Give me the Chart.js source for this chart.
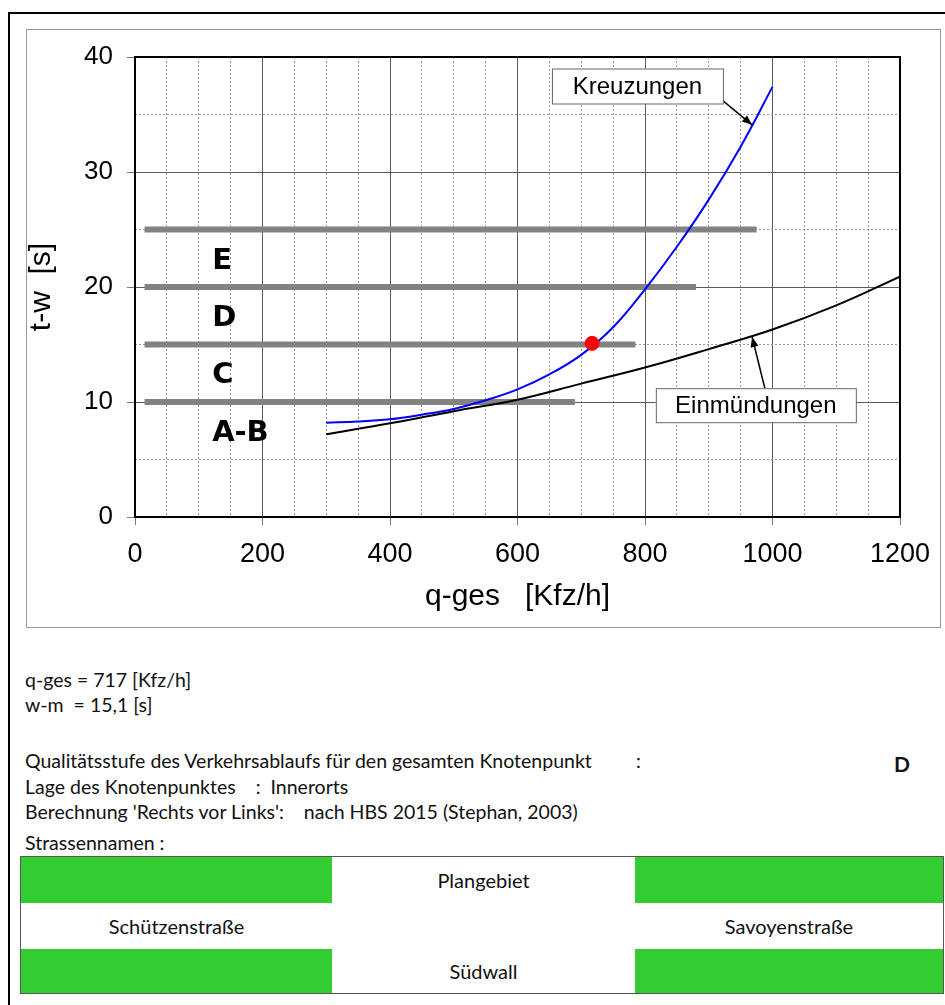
<!DOCTYPE html>
<html>
<head>
<meta charset="utf-8">
<script src="https://cdn.jsdelivr.net/npm/chart.js@4.4.1/dist/chart.umd.min.js"></script>
<style>
html, body { margin: 0; padding: 0; background: #fff; width: 945px; height: 1005px; overflow: hidden; }
#frame { position: absolute; left: 8px; top: 12px; width: 1000px; height: 1100px; border: 2px solid #000; }
#panel { position: absolute; left: 26px; top: 29px; width: 913px; height: 597px; border: 1px solid #999; }
#wrap { position: absolute; left: 26px; top: 29px; width: 914px; height: 598px; }
.t { position: absolute; font-family: Lato, sans-serif; font-size: 19.5px; color: #111; white-space: pre; line-height: 20px; }
#tbl { position: absolute; left: 20px; top: 856px; width: 922px; height: 136px; border: 1px solid #555; }
.c { position: absolute; height: 46px; line-height: 46px; text-align: center; font-family: Lato, sans-serif; font-size: 20px; color: #111; }
.g { background: #33cc33; }
</style>
</head>
<body>
<div id="frame"></div>
<div id="panel"></div>
<div id="wrap"><canvas id="chart" width="914" height="598"></canvas></div>

<div class="t" style="left:25px;top:670px">q-ges = 717 [Kfz/h]</div>
<div class="t" style="left:25px;top:695px">w-m  = 15,1 [s]</div>
<div class="t" style="left:25px;top:751px">Qualitätsstufe des Verkehrsablaufs für den gesamten Knotenpunkt</div>
<div class="t" style="left:636px;top:751px">:</div>
<div class="t" style="left:894px;top:754px;font-weight:bold;font-size:21px">D</div>
<div class="t" style="left:25px;top:777px">Lage des Knotenpunktes    :  Innerorts</div>
<div class="t" style="left:25px;top:802px">Berechnung 'Rechts vor Links':    nach HBS 2015 (Stephan, 2003)</div>
<div class="t" style="left:25px;top:833px">Strassennamen :</div>

<div id="tbl">
  <div class="c g" style="left:0;top:0;width:311px"></div>
  <div class="c" style="left:311px;top:0;width:303px">Plangebiet</div>
  <div class="c g" style="left:614px;top:0;width:308px"></div>
  <div class="c" style="left:0;top:46px;width:311px">Schützenstraße</div>
  <div class="c" style="left:311px;top:46px;width:303px"></div>
  <div class="c" style="left:614px;top:46px;width:308px">Savoyenstraße</div>
  <div class="c g" style="left:0;top:92px;width:311px;height:44px"></div>
  <div class="c" style="left:311px;top:92px;width:303px;height:44px;line-height:44px">Südwall</div>
  <div class="c g" style="left:614px;top:92px;width:308px;height:44px"></div>
</div>

<script>
// Kreuzungen (blue curve)
var qKreuz = [300, 350, 400, 450, 500, 550, 600, 650, 700, 750, 800, 850, 900, 950, 1000];
var tKreuz = [8.2, 8.3, 8.5, 8.9, 9.4, 10.15, 11.1, 12.4, 14.1, 16.5, 19.8, 23.5, 27.6, 32.2, 37.4];

// Einmündungen (black curve)
var qEin = [300, 400, 500, 600, 700, 800, 900, 1000, 1100, 1200];
var tEin = [7.2, 8.15, 9.2, 10.2, 11.6, 13.0, 14.6, 16.3, 18.4, 20.9];

// quality level limits
var levelLimits = [10, 15, 20, 25];
var levelStart  = 15;
var levelEnd    = [690, 785, 880, 975];
var levelNames  = ['A-B', 'C', 'D', 'E'];
var levelMid    = [7.3, 12.3, 17.3, 22.2];
var levelLabelQ = 121;

// current point
var qCurrent = 717;
var tCurrent = 15.1;

function pts(xs, ys) {
  return xs.map(function (v, i) { return { x: v, y: ys[i] }; });
}

var datasets = [];
datasets.push({
  data: [{ x: qCurrent, y: tCurrent }],
  pointRadius: 7, pointBackgroundColor: '#ff0000', pointBorderColor: '#ff0000',
  showLine: false, order: 0
});
datasets.push({
  data: pts(qKreuz, tKreuz), borderColor: '#0000ff', borderWidth: 2,
  showLine: true, pointRadius: 0, tension: 0.4, order: 1
});
datasets.push({
  data: pts(qEin, tEin), borderColor: '#000000', borderWidth: 2,
  showLine: true, pointRadius: 0, tension: 0.4, order: 1
});
levelLimits.forEach(function (lim, i) {
  datasets.push({
    data: [{ x: levelStart, y: lim }, { x: levelEnd[i], y: lim }],
    borderColor: '#828282', borderWidth: 6, borderCapStyle: 'butt',
    showLine: true, pointRadius: 0, order: 2
  });
});

// annotation boxes with arrows (box corner + arrow in data units)
var callouts = [
  { text: 'Kreuzungen',   bx: 654, by: 39.0, w: 171, h: 35, from: [922, 36.2], tip: [968, 34.1] },
  { text: 'Einmündungen', bx: 817, by: 11.2, w: 200, h: 34, from: [988, 11.2], tip: [968, 15.65] }
];

function isMajor(ctx, step) {
  return ctx.tick && Math.round(ctx.tick.value) % step === 0;
}

var extras = {
  id: 'extras',
  afterDatasetsDraw: function (chart) {
    var ctx = chart.ctx, a = chart.chartArea, x = chart.scales.x, y = chart.scales.y;
    ctx.save();
    ctx.strokeStyle = '#000';
    ctx.lineWidth = 2;
    ctx.strokeRect(a.left, a.top, a.right - a.left, a.bottom - a.top);

    ctx.fillStyle = '#000';
    ctx.font = 'bold 29px "DejaVu Sans"';
    ctx.textBaseline = 'middle';
    ctx.textAlign = 'left';
    levelNames.forEach(function (n, i) {
      ctx.fillText(n, x.getPixelForValue(levelLabelQ), y.getPixelForValue(levelMid[i]));
    });

    callouts.forEach(function (c) {
      var px = x.getPixelForValue(c.bx), py = y.getPixelForValue(c.by);
      var fx = x.getPixelForValue(c.from[0]), fy = y.getPixelForValue(c.from[1]);
      var tx = x.getPixelForValue(c.tip[0]), ty = y.getPixelForValue(c.tip[1]);
      ctx.strokeStyle = '#000';
      ctx.lineWidth = 1.5;
      ctx.beginPath();
      ctx.moveTo(fx, fy);
      ctx.lineTo(tx, ty);
      ctx.stroke();
      var ang = Math.atan2(ty - fy, tx - fx);
      ctx.beginPath();
      ctx.moveTo(tx, ty);
      ctx.lineTo(tx - 10 * Math.cos(ang) + 4 * Math.sin(ang), ty - 10 * Math.sin(ang) - 4 * Math.cos(ang));
      ctx.lineTo(tx - 10 * Math.cos(ang) - 4 * Math.sin(ang), ty - 10 * Math.sin(ang) + 4 * Math.cos(ang));
      ctx.closePath();
      ctx.fill();

      ctx.fillStyle = '#fff';
      ctx.fillRect(px, py, c.w, c.h);
      ctx.strokeStyle = '#666';
      ctx.lineWidth = 1;
      ctx.strokeRect(px + 0.5, py + 0.5, c.w, c.h);
      ctx.fillStyle = '#000';
      ctx.font = '24px "Liberation Sans"';
      ctx.textAlign = 'center';
      ctx.fillText(c.text, px + c.w / 2, py + c.h / 2 + 1);
      ctx.textAlign = 'left';
    });
    ctx.restore();
  }
};

new Chart(document.getElementById('chart').getContext('2d'), {
  type: 'scatter',
  data: { datasets: datasets },
  plugins: [extras],
  options: {
    responsive: false,
    animation: false,
    layout: { padding: { top: 28, right: 40, left: 0, bottom: 0 } },
    plugins: { legend: { display: false }, tooltip: { enabled: false } },
    scales: {
      x: {
        type: 'linear', min: 0, max: 1200,
        afterFit: function (s) { s.height = 110; s.paddingLeft = 0; s.paddingRight = 0; },
        ticks: {
          stepSize: 50, autoSkip: false, maxRotation: 0, padding: 13, color: '#000',
          font: { family: 'Liberation Sans', size: 27 },
          callback: function (v) { return v % 200 === 0 ? v : ''; }
        },
        grid: {
          tickLength: 8,
          color: function (c) { return isMajor(c, 200) ? '#5a5a5a' : '#9a9a9a'; },
          tickColor: function (c) { return isMajor(c, 200) ? '#777' : 'rgba(0,0,0,0)'; }
        },
        border: { display: false, dash: function (c) { return isMajor(c, 200) ? [] : [2, 2]; } },
        title: { display: true, text: 'q-ges   [Kfz/h]', color: '#000',
                 font: { family: 'Liberation Sans', size: 30, lineHeight: 1 }, padding: { top: 0, bottom: 15 } }
      },
      y: {
        type: 'linear', min: 0, max: 40,
        afterFit: function (s) { s.width = 109; s.paddingTop = 0; s.paddingBottom = 0; },
        ticks: {
          stepSize: 5, autoSkip: false, padding: 14, color: '#000',
          font: { family: 'Liberation Sans', size: 26 },
          callback: function (v) { return v % 10 === 0 ? v : ''; }
        },
        grid: {
          tickLength: 8,
          color: function (c) { return isMajor(c, 10) ? '#5a5a5a' : '#9a9a9a'; },
          tickColor: function (c) { return isMajor(c, 10) ? '#777' : 'rgba(0,0,0,0)'; }
        },
        border: { display: false, dash: function (c) { return isMajor(c, 10) ? [] : [2, 2]; } },
        title: { display: true, text: 't-w  [s]', color: '#000',
                 font: { family: 'Liberation Sans', size: 30, lineHeight: 1 }, padding: { top: 1, bottom: 0 } }
      }
    }
  }
});
</script>
</body>
</html>
